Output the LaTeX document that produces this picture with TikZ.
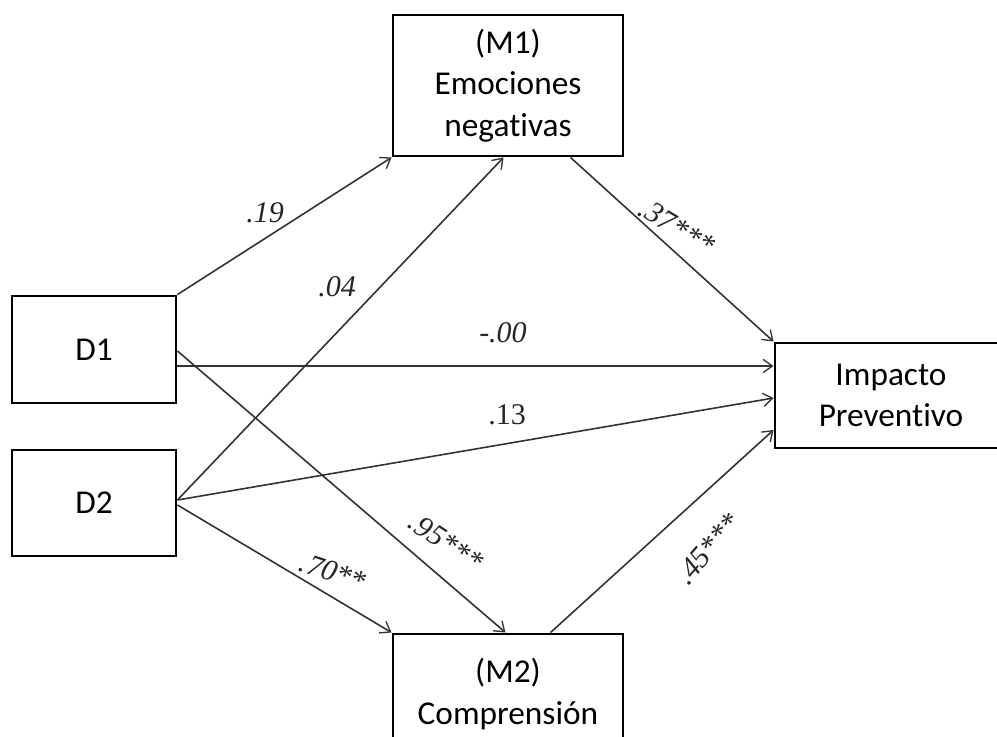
\documentclass[tikz,border=0pt]{standalone}
\usepackage{fontspec}
\setmainfont{Carlito}[Ligatures=NoCommon]
\newfontfamily\labfont{Liberation Serif}
\usetikzlibrary{arrows.meta,calc}
\begin{document}
\begin{tikzpicture}[x=0.75pt,y=-0.75pt,
  box/.style={draw=black,line width=2.2pt,fill=white,align=center,inner sep=0pt,
    font=\fontsize{25}{31}\selectfont},
  conn/.style={draw=black!80,line width=1.2pt,-{Straight Barb[length=7pt,width=10pt,line width=1pt]}},
  coef/.style={font=\labfont\itshape\fontsize{22.5}{24}\selectfont,text=black!85,inner sep=0pt},
  coefup/.style={font=\labfont\fontsize{22.5}{24}\selectfont,text=black!85,inner sep=0pt}]
\clip (0,0) rectangle (997,737);
\useasboundingbox (0,0) rectangle (997,737);

\node[box,minimum width=172.5pt,minimum height=105.75pt] (M1) at (508,85.5) {(M1)\\Emociones\\negativas};
\node[box,minimum width=123pt,minimum height=80.25pt] (D1) at (94,349.5) {D1};
\node[box,minimum width=123pt,minimum height=79.5pt] (D2) at (94,503) {D2};
\node[box,minimum width=174pt,minimum height=78.75pt] (IP) at (891,395.5) {Impacto\\Preventivo};
\node[box,minimum width=172.5pt,minimum height=90pt] (M2) at (508,694) {(M2)\\Comprensión};

\coordinate (m1a) at ($(M1.south west)+(112,0)$);
\coordinate (m1b) at ($(M1.south west)+(179,0)$);
\coordinate (m2a) at ($(M2.north west)+(114,0)$);
\coordinate (m2b) at ($(M2.north west)+(159,0)$);
\coordinate (d1a) at ($(D1.east)+(0,1.5)$);
\coordinate (d1b) at ($(D1.east)+(0,16.5)$);
\coordinate (d2a) at ($(D2.east)+(0,-3)$);
\coordinate (d2b) at ($(D2.east)+(0,2)$);
\coordinate (ipa) at ($(IP.west)+(0,-29.5)$);
\coordinate (ipb) at ($(IP.west)+(0,2.5)$);
\coordinate (ipc) at ($(IP.west)+(0,34.5)$);

\draw[conn] (D1.north east) -- (M1.south west);
\draw[conn] (d2a) -- (m1a);
\draw[conn] (m1b) -- (IP.north west);
\draw[conn] (d1b) -- (ipa);
\draw[conn] (d2a) -- (ipb);
\draw[conn] (d1a) -- (m2a);
\draw[conn] (d2b) -- (M2.north west);
\draw[conn] (m2b) -- (ipc);

\node[coef] (l19) at (265,213) {.19};
\node[coef] (l04) at (337,287) {.04};
\node[coef,rotate=-31] (l37) at (677,227) {.37***};
\node[coef] (l00) at (503,333) {-.00};
\node[coefup] (l13) at (507,415) {.13};
\node[coef,rotate=-34] (l95) at (446,542) {.95***};
\node[coef,rotate=-18] (l70) at (333,572) {.70**};
\node[coef,rotate=49] (l45) at (708,549) {.45***};
\end{tikzpicture}
\end{document}
